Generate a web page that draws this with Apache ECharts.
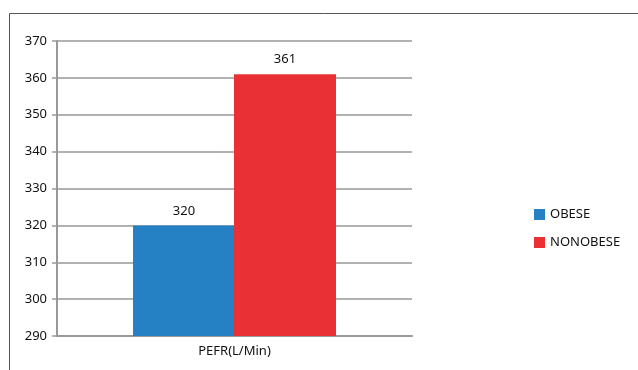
<!DOCTYPE html>
<html>
<head>
<meta charset="utf-8">
<script src="https://cdn.jsdelivr.net/npm/echarts@6/dist/echarts.min.js"></script>
<style>
  html, body { margin: 0; padding: 0; background: #fff; }
  #chart { width: 638px; height: 370px; }
</style>
</head>
<body>
<div id="chart"></div>
<script>
var categories = ['PEFR(L/Min)']
var obese = [320]
var nonObese = [361]
var seriesNames = ['OBESE', 'NONOBESE']

var chart = echarts.init(document.getElementById('chart'))
var font = 'Noto Sans'

chart.setOption({
  animation: false,
  graphic: [{
    type: 'rect',
    shape: { x: 9.5, y: 13.5, width: 700, height: 400 },
    style: { fill: 'none', stroke: '#555', lineWidth: 1 }
  }],
  grid: { left: 57, top: 41, width: 355, height: 295 },
  legend: {
    orient: 'vertical',
    left: 529,
    top: 203,
    itemWidth: 11,
    itemHeight: 11,
    itemGap: 15,
    icon: 'rect',
    textStyle: { fontFamily: font, fontSize: 13, color: '#111' },
    data: seriesNames
  },
  xAxis: {
    type: 'category',
    data: categories,
    axisLine: { lineStyle: { color: '#999', width: 2 } },
    axisTick: { show: false },
    axisLabel: { fontFamily: font, fontSize: 13, color: '#111', margin: 9 }
  },
  yAxis: {
    type: 'value',
    min: 290,
    max: 370,
    interval: 10,
    axisLine: { show: true, lineStyle: { color: '#999', width: 2 } },
    axisTick: { show: true, length: 5, lineStyle: { color: '#999', width: 1.5 } },
    axisLabel: { fontFamily: font, fontSize: 13, color: '#111', margin: 10 },
    splitLine: { lineStyle: { color: '#999', width: 1.5 } }
  },
  series: [
    {
      name: seriesNames[0],
      type: 'bar',
      data: obese,
      barWidth: 102,
      barGap: '-1%',
      itemStyle: { color: '#2581c4' },
      label: { show: true, position: 'top', distance: 8, fontFamily: font, fontSize: 13, color: '#111' }
    },
    {
      name: seriesNames[1],
      type: 'bar',
      data: nonObese,
      barWidth: 102,
      barGap: '-1%',
      itemStyle: { color: '#e83035' },
      label: { show: true, position: 'top', distance: 8, fontFamily: font, fontSize: 13, color: '#111' }
    }
  ]
})
</script>
</body>
</html>
